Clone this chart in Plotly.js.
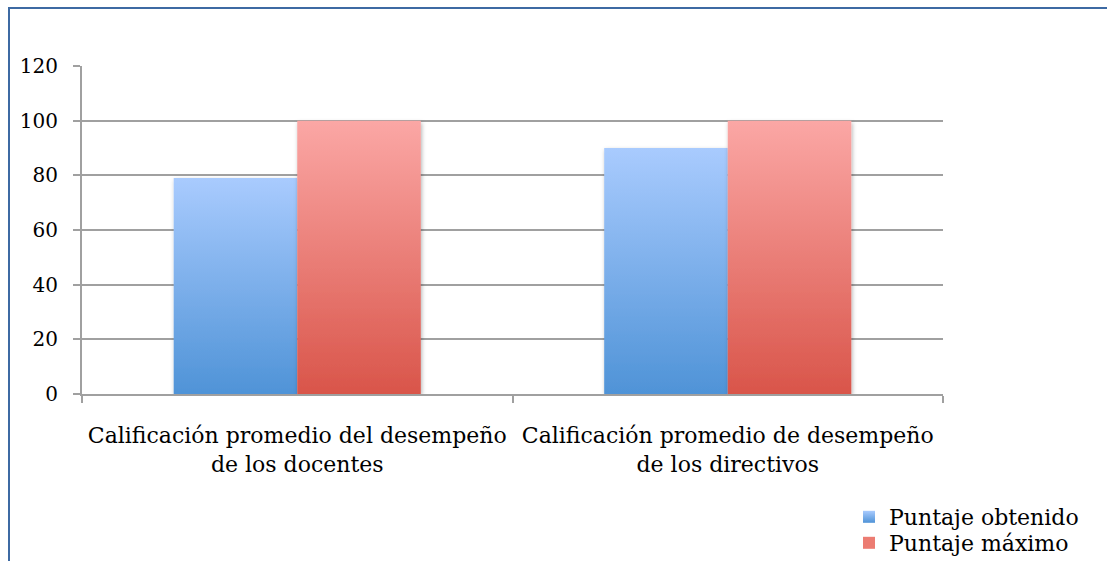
<!DOCTYPE html>
<html>
<head>
<meta charset="utf-8">
<script src="https://cdn.plot.ly/plotly-3.0.1.min.js"></script>
<style>
  html, body { margin: 0; padding: 0; background: #fff; overflow: hidden; }
  #frame { position: absolute; left: 8px; top: 7px; width: 1200px; height: 700px;
           border-left: 2px solid #3d6aa3; border-top: 2px solid #3d6aa3; box-sizing: border-box; pointer-events: none; z-index: 5; }
  #chart { position: absolute; left: 0; top: 0; width: 1107px; height: 561px; }
</style>
</head>
<body>
<div id="chart"></div>
<div id="frame"></div>
<script>
const categories = [
  "Calificación promedio del desempeño<br>de los docentes",
  "Calificación promedio de desempeño<br>de los directivos"
];
const seriesNames = ["Puntaje obtenido", "Puntaje máximo"];
const obtenido = [79, 90];
const maximo = [100, 100];
const yTicks = [0, 20, 40, 60, 80, 100, 120];

const FONT = "DejaVu Serif, Liberation Serif, serif";

const traces = [
  { type: "bar", x: categories, y: obtenido, name: seriesNames[0], legend: "legend",
    marker: { color: "#7fb0ec", line: { width: 0 } }, hoverinfo: "none" },
  { type: "bar", x: categories, y: maximo, name: seriesNames[1], legend: "legend2",
    marker: { color: "#ec7c72", line: { width: 0 } }, hoverinfo: "none" }
];

const legendBase = {
  xref: "container", yref: "container", x: 849 / 1107, xanchor: "left", yanchor: "middle",
  font: { family: FONT, size: 22, color: "#000" }, bgcolor: "rgba(0,0,0,0)", borderwidth: 0
};

const layout = {
  width: 1107, height: 561,
  margin: { l: 82, r: 164, t: 66, b: 167, autoexpand: false },
  paper_bgcolor: "#ffffff", plot_bgcolor: "#ffffff",
  font: { family: FONT, size: 22, color: "#000" },
  barmode: "group", bargap: 0.426, bargroupgap: 0,
  showlegend: true,
  legend: Object.assign({}, legendBase, { y: 1 - 517 / 561 }),
  legend2: Object.assign({}, legendBase, { y: 1 - 543 / 561 }),
  xaxis: { type: "category", showgrid: false, showline: true, linecolor: "#a0a0a0", linewidth: 2,
           ticks: "outside", tickson: "boundaries", ticklen: 7, tickcolor: "#a0a0a0", tickwidth: 2,
           ticklabelstandoff: 21, automargin: false,
           tickfont: { family: FONT, size: 22 }, fixedrange: true },
  yaxis: { range: [0, 120], tickvals: yTicks, showgrid: true, gridcolor: "#a0a0a0", gridwidth: 2,
           showline: true, linecolor: "#a0a0a0", linewidth: 2, zeroline: false,
           ticks: "outside", ticklen: 7, tickcolor: "#a0a0a0", tickwidth: 2,
           ticklabelstandoff: 11, automargin: false,
           tickfont: { family: FONT, size: 20 }, fixedrange: true }
};

Plotly.newPlot("chart", traces, layout, { staticPlot: true }).then(function () {
  const svg = document.querySelector("#chart .main-svg");
  const NS = "http://www.w3.org/2000/svg";
  let defs = svg.querySelector("defs");
  if (!defs) { defs = document.createElementNS(NS, "defs"); svg.insertBefore(defs, svg.firstChild); }
  function grad(id, top, bottom) {
    const g = document.createElementNS(NS, "linearGradient");
    g.setAttribute("id", id);
    g.setAttribute("x1", "0"); g.setAttribute("y1", "0");
    g.setAttribute("x2", "0"); g.setAttribute("y2", "1");
    [[0, top], [1, bottom]].forEach(function (s) {
      const st = document.createElementNS(NS, "stop");
      st.setAttribute("offset", s[0]);
      st.setAttribute("stop-color", s[1]);
      g.appendChild(st);
    });
    defs.appendChild(g);
  }
  grad("gBlue", "#a9cbfe", "#4f93d7");
  grad("gRed", "#fba7a5", "#d9554a");
  const f = document.createElementNS(NS, "filter");
  f.setAttribute("id", "shadow");
  f.setAttribute("x", "-10%"); f.setAttribute("y", "-10%");
  f.setAttribute("width", "130%"); f.setAttribute("height", "130%");
  const ds = document.createElementNS(NS, "feDropShadow");
  ds.setAttribute("dx", "1"); ds.setAttribute("dy", "2");
  ds.setAttribute("stdDeviation", "2"); ds.setAttribute("flood-color", "#000");
  ds.setAttribute("flood-opacity", "0.3");
  f.appendChild(ds); defs.appendChild(f);

  const ids = ["gBlue", "gRed"];
  document.querySelectorAll("#chart .barlayer .trace").forEach(function (tr, i) {
    tr.querySelectorAll("path").forEach(function (p) {
      p.style.fill = "url(#" + ids[i] + ")";
      p.setAttribute("filter", "url(#shadow)");
    });
  });
  document.querySelectorAll("#chart .legend").forEach(function (lg, i) {
    lg.querySelectorAll(".legendpoints path").forEach(function (p) {
      p.style.fill = "url(#" + ids[i] + ")";
    });
  });
});
</script>
</body>
</html>
